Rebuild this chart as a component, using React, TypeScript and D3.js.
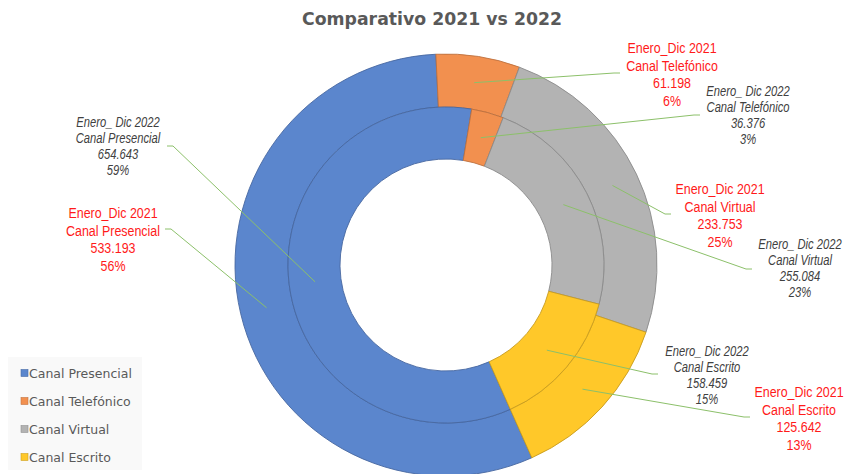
import React, { useEffect, useRef } from 'react'
import * as d3 from 'd3'

const categories = ['Canal Presencial', 'Canal Telefónico', 'Canal Virtual', 'Canal Escrito']
const values2021 = [533193, 61198, 233753, 125642]
const values2022 = [654643, 36376, 255084, 158459]
const pct2021 = [56, 6, 25, 13]
const pct2022 = [59, 3, 23, 15]
const periods = ['Enero_Dic 2021', 'Enero_ Dic 2022']
const colors = ['#5B86CD', '#F2904F', '#B3B3B3', '#FFC829']

// where each data label sits: centre x, first baseline, end of leader line, side
const labelPos2021 = [
  { x: 113, y: 218, lx: 165, ly: 229, side: -1 },
  { x: 672, y: 53, lx: 620, ly: 73, side: 1 },
  { x: 720, y: 194, lx: 671, ly: 214, side: 1 },
  { x: 799, y: 397, lx: 750, ly: 417, side: 1 }
]
const labelPos2022 = [
  { x: 118, y: 127, lx: 167, ly: 146, side: -1 },
  { x: 748, y: 96, lx: 700, ly: 115, side: 1 },
  { x: 800, y: 249, lx: 752, ly: 269, side: 1 },
  { x: 707, y: 356, lx: 658, ly: 374, side: 1 }
]

const W = 844
const H = 474

const App = () => {
  const ref = useRef(null)

  useEffect(() => {
    const svg = d3.select(ref.current)
    svg.selectAll('*').remove()

    const cx = 446, cy = 265
    const rOuter = 211, rMid = 158, rInner = 106
    const start = (156 * Math.PI) / 180

    const fmt = d3.formatLocale({ decimal: ',', thousands: '.', grouping: [3], currency: ['', ''] }).format(',')

    const pie = d3.pie<number>()
      .sort(null)
      .value(d => d)
      .startAngle(start)
      .endAngle(start + 2 * Math.PI)

    const arcOuter = d3.arc<any>().innerRadius(rMid).outerRadius(rOuter)
    const arcInner = d3.arc<any>().innerRadius(rInner).outerRadius(rMid)

    svg.append('rect').attr('width', W).attr('height', H).attr('fill', '#fff')

    // title
    svg.append('text')
      .attr('x', 432)
      .attr('y', 25)
      .attr('text-anchor', 'middle')
      .attr('font-family', 'DejaVu Sans, sans-serif')
      .attr('font-weight', 'bold')
      .attr('font-size', 17)
      .attr('textLength', 260)
      .attr('lengthAdjust', 'spacingAndGlyphs')
      .attr('fill', '#595959')
      .text('Comparativo 2021 vs 2022')

    const g = svg.append('g').attr('transform', `translate(${cx},${cy})`)

    const rings = [
      { arcs: pie(values2021), arc: arcOuter },
      { arcs: pie(values2022), arc: arcInner }
    ]

    rings.forEach(ring => {
      g.append('g')
        .selectAll('path')
        .data(ring.arcs)
        .join('path')
        .attr('d', ring.arc)
        .attr('fill', (d, i) => colors[i])
        .attr('stroke', (d, i) => d3.color(colors[i]).darker(0.7).formatHex())
        .attr('stroke-width', 0.9)
    })

    // labels + leader lines
    const drawLabels = (arcs, arc, pos, values, pct, period, isRed) => {
      arcs.forEach((d, i) => {
        const [px, py] = arc.centroid(d)
        const p = pos[i]
        const pts = [
          [px + cx, py + cy],
          [p.lx - p.side * 6, p.ly],
          [p.lx, p.ly]
        ]
        svg.append('path')
          .attr('d', d3.line()(pts as any))
          .attr('fill', 'none')
          .attr('stroke', '#8CC06A')
          .attr('stroke-width', 1)

        const lines = [period, categories[i], fmt(values[i]), pct[i] + '%']
        // no narrow face installed, so squeeze a regular sans horizontally
        const t = svg.append('text')
          .attr('transform', `translate(${p.x},0) scale(${isRed ? 0.83 : 0.8},1)`)
          .attr('text-anchor', 'middle')
          .attr('font-family', 'Liberation Sans, Arial, sans-serif')
          .attr('font-size', isRed ? 15 : 14)
          .attr('font-style', isRed ? 'normal' : 'italic')
          .attr('fill', isRed ? '#FF1A1A' : '#404040')
        lines.forEach((s, k) => {
          t.append('tspan')
            .attr('x', 0)
            .attr('y', p.y + k * (isRed ? 17.6 : 16))
            .text(s)
        })
      })
    }

    drawLabels(rings[0].arcs, arcOuter, labelPos2021, values2021, pct2021, periods[0], true)
    drawLabels(rings[1].arcs, arcInner, labelPos2022, values2022, pct2022, periods[1], false)

    // legend
    const lg = svg.append('g')
    lg.append('rect')
      .attr('x', 8).attr('y', 357).attr('width', 134).attr('height', 113)
      .attr('fill', '#F9F9F9')
    const item = lg.selectAll('g.item')
      .data(categories)
      .join('g')
      .attr('class', 'item')
      .attr('transform', (d, i) => `translate(21,${373 + i * 28})`)
    item.append('rect')
      .attr('x', 0).attr('y', -3.5).attr('width', 7).attr('height', 7)
      .attr('fill', (d, i) => colors[i])
      .attr('stroke', (d, i) => d3.color(colors[i]).darker(0.6).formatHex())
      .attr('stroke-width', 0.6)
    item.append('text')
      .attr('x', 8)
      .attr('y', 4.5)
      .attr('font-family', 'DejaVu Sans, sans-serif')
      .attr('font-size', 12.5)
      .attr('fill', '#595959')
      .text(d => d)
  }, [])

  return (
    <svg ref={ref} width={W} height={H} style={{ position: 'absolute', left: 0, top: 0, display: 'block' }}>
      <g></g>
    </svg>
  )
}

export default App
